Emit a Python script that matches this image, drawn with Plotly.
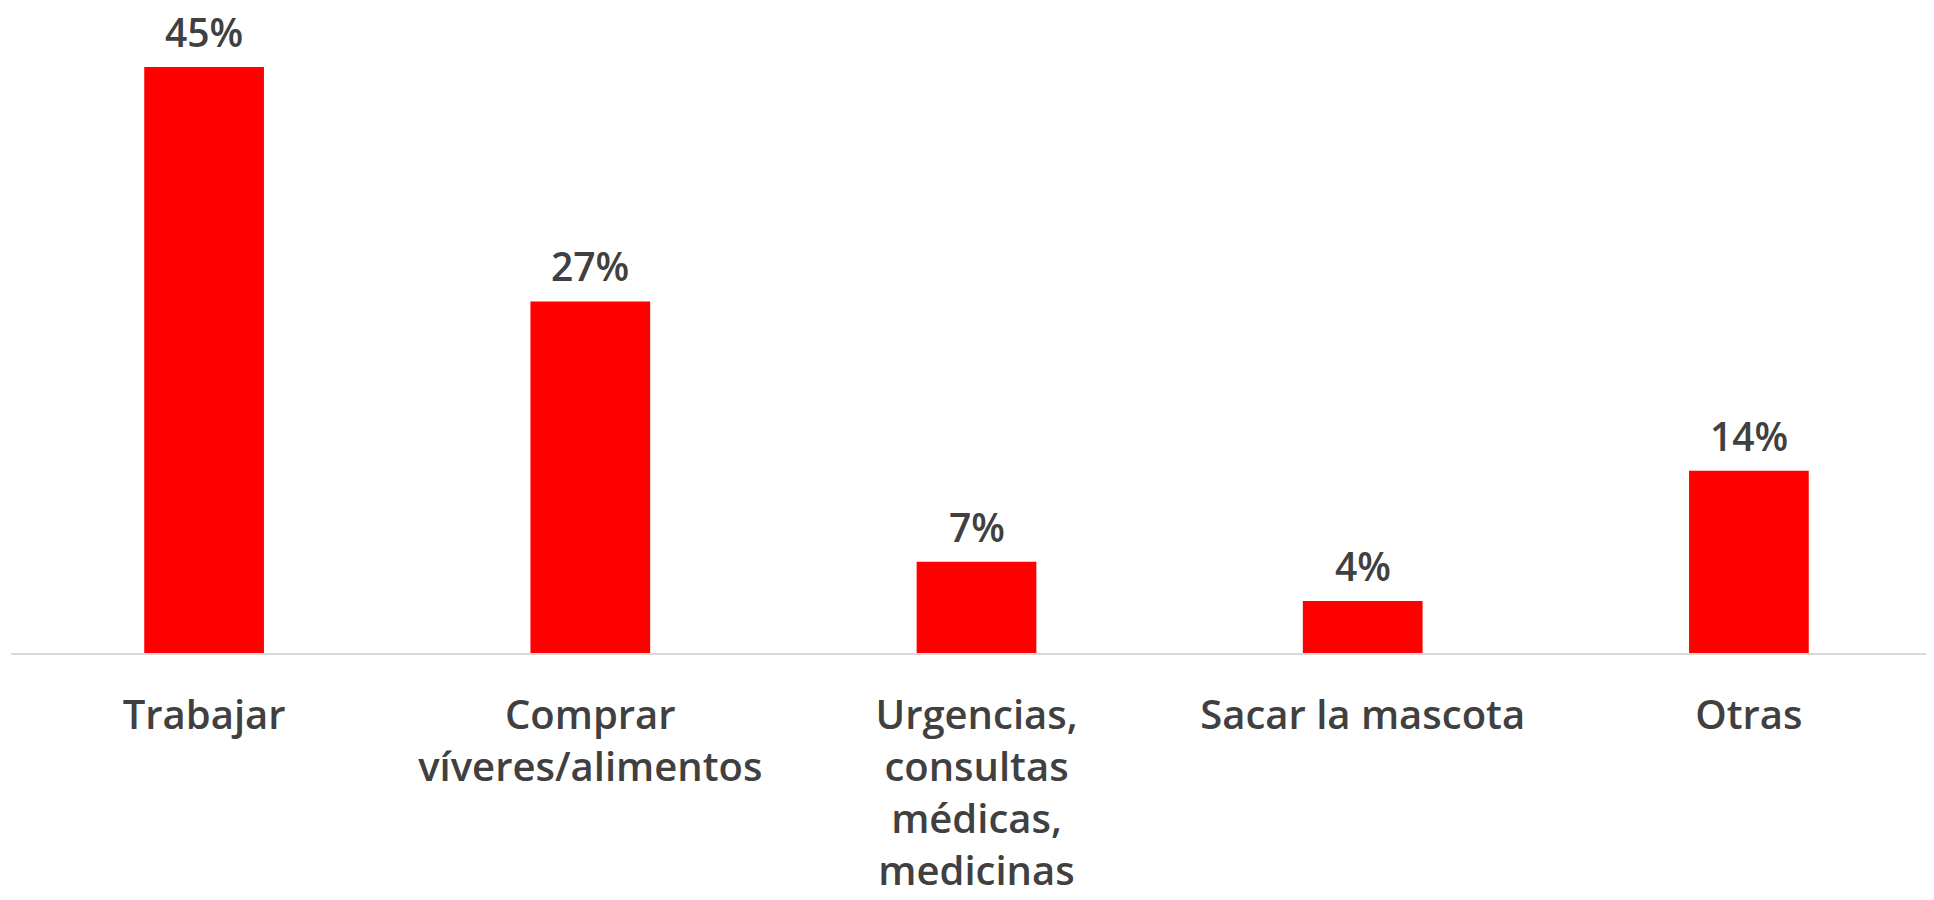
import plotly.graph_objects as go

categories = ['Trabajar', 'Comprar<br>víveres/alimentos',
              'Urgencias,<br>consultas<br>médicas,<br>medicinas',
              'Sacar la mascota', 'Otras']
values = [45, 27, 7, 4, 14]
labels = ['45%', '27%', '7%', '4%', '14%']

font_name = 'Open Sans'
grey = '#404040'

fig = go.Figure()
fig.add_trace(go.Bar(x=categories, y=values, marker_color='#FF0000',
                     marker_line_width=0, width=0.31))

for c, v, t in zip(categories, values, labels):
    fig.add_annotation(x=c, y=v, text=t, showarrow=False,
                       yanchor='bottom', yshift=7,
                       font=dict(family=font_name, size=39, color=grey, weight=600))

fig.update_layout(
    width=1934, height=900,
    margin=dict(l=3, r=0, t=31, b=255),
    plot_bgcolor='white', paper_bgcolor='white',
    showlegend=False,
    xaxis=dict(showline=True, linecolor='#D9D9D9', linewidth=2,
               ticks='', ticklabelstandoff=26,
               tickfont=dict(family=font_name, size=40, color=grey, weight=600)),
    yaxis=dict(range=[0, 47.16], visible=False, showgrid=False),
)

fig.write_html('out.html')
